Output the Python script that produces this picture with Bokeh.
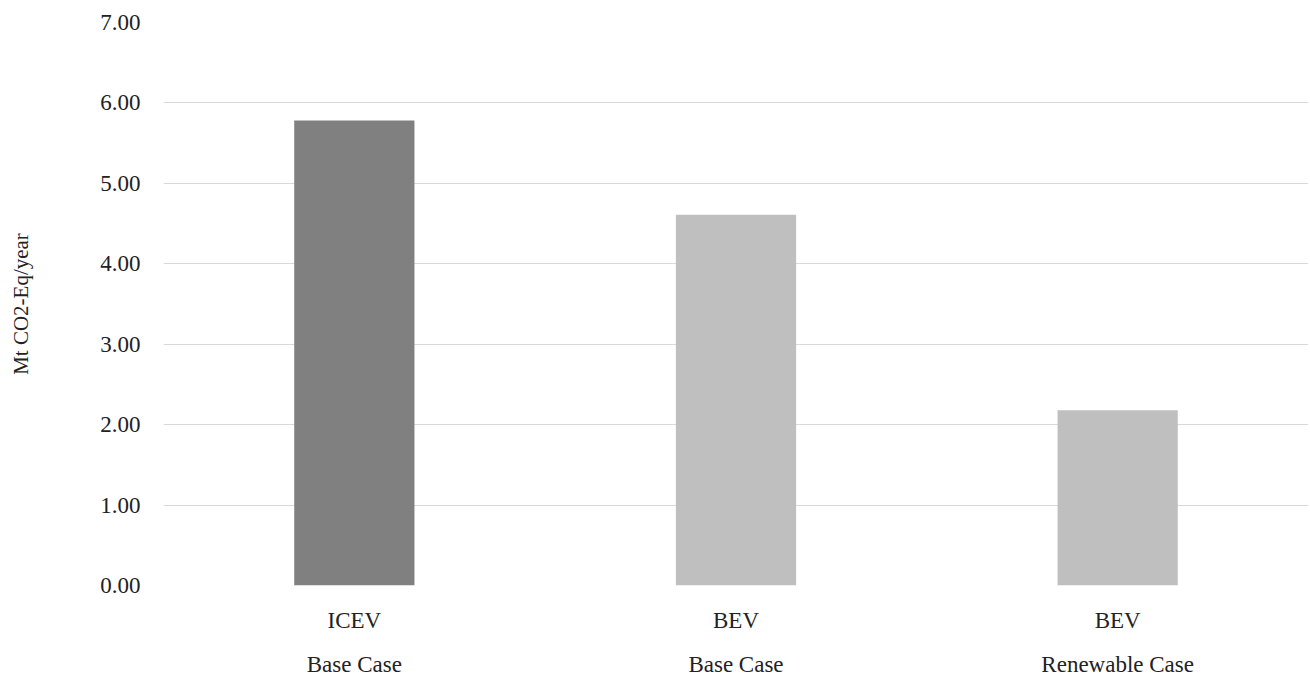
from bokeh.plotting import figure
from bokeh.models import Range1d, LinearAxis, FixedTicker, SingleIntervalTicker, NumeralTickFormatter
from bokeh.embed import file_html
from bokeh.resources import INLINE

vehicles = ["ICEV", "BEV", "BEV"]
cases = ["Base Case", "Base Case", "Renewable Case"]
emissions = [5.78, 4.61, 2.18]
colors = ["#808080", "#bfbfbf", "#bfbfbf"]

positions = [i + 0.5 for i in range(len(emissions))]

FONT = "Liberation Serif"
TXT = "#222222"

p = figure(x_range=Range1d(0, len(emissions)),
           y_range=Range1d(0, 7),
           width=1308, height=679, output_backend="svg", toolbar_location=None,
           min_border_left=163, min_border_right=0, min_border_top=22, min_border_bottom=40)
p.outline_line_color = None

p.vbar(x=positions, top=emissions, width=0.315, fill_color=colors, line_color=None)

# y axis
p.yaxis.ticker = SingleIntervalTicker(interval=1)
p.yaxis.formatter = NumeralTickFormatter(format="0.00")
p.yaxis.axis_line_color = None
p.yaxis.major_tick_line_color = None
p.yaxis.major_tick_out = 0
p.yaxis.minor_tick_line_color = None
p.yaxis.minor_tick_out = 0
p.yaxis.major_label_text_font = FONT
p.yaxis.major_label_text_font_size = "23px"
p.yaxis.major_label_text_color = TXT
p.yaxis.major_label_standoff = 23
p.yaxis.axis_label = "Mt CO2-Eq/year"
p.yaxis.axis_label_text_font = FONT
p.yaxis.axis_label_text_font_style = "normal"
p.yaxis.axis_label_text_font_size = "21px"
p.yaxis.axis_label_text_color = TXT
p.yaxis.axis_label_standoff = 64

p.ygrid.grid_line_color = "#d9d9d9"
p.xgrid.grid_line_color = None

def style_x(ax, labels, standoff):
    ax.ticker = FixedTicker(ticks=positions)
    ax.major_label_overrides = {pos: lab for pos, lab in zip(positions, labels)}
    ax.axis_line_color = None
    ax.major_tick_line_color = None
    ax.minor_tick_line_color = None
    ax.major_label_text_font = FONT
    ax.major_label_text_font_size = "23px"
    ax.major_label_text_color = TXT
    ax.major_label_standoff = standoff

style_x(p.xaxis[0], vehicles, 16)
xa2 = LinearAxis()
style_x(xa2, cases, 10)
p.add_layout(xa2, "below")

open("out.html", "w").write(file_html(p, INLINE))
